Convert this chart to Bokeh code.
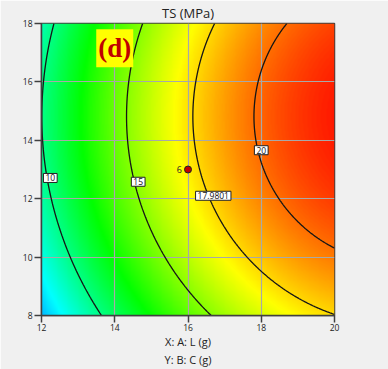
import numpy as np
from bokeh.plotting import figure
from bokeh.models import (Range1d, FixedTicker, LinearColorMapper, Label, LinearAxis)
from bokeh.embed import file_html
from bokeh.resources import INLINE

# ---- data (response-surface model in coded units) ----
x_name = "X: A: L (g)"
y_name = "Y: B: C (g)"
title_text = "TS (MPa)"
x_ticks = [12, 14, 16, 18, 20]
y_ticks = [8, 10, 12, 14, 16, 18]
A_center, A_half = 16.0, 4.0
B_center, B_half = 13.0, 5.0
coef_intercept = 17.53
coef_A = 5.81
coef_B = 1.43
coef_AB = 0.0
coef_A2 = -2.00
coef_B2 = -1.97
contour_levels = [10, 15, 17.9801, 20]
contour_label_text = ["10", "15", "17.9801", "20"]
contour_label_x = [12.24, 14.64, 16.69, 18.00]
contour_label_y = [12.71, 12.58, 12.10, 13.66]
design_x = [16.0]
design_y = [13.0]
design_label = ["6"]
color_low, color_high = 2.8, 22.1

FONT = "Open Sans"

# ---- surface ----
xs = np.linspace(12, 20, 321)
ys = np.linspace(8, 18, 321)
X, Y = np.meshgrid(xs, ys)
A = (X - A_center) / A_half
B = (Y - B_center) / B_half
Z = (coef_intercept + coef_A * A + coef_B * B + coef_AB * A * B
     + coef_A2 * A ** 2 + coef_B2 * B ** 2)

stops = np.array([[0, 0, 255], [0, 255, 255], [0, 255, 0], [255, 255, 0], [255, 0, 0]], float)
pos = np.linspace(0, 1, len(stops))
tt = np.linspace(0, 1, 256)
palette = []
for t in tt:
    r = np.interp(t, pos, stops[:, 0]); g = np.interp(t, pos, stops[:, 1]); b = np.interp(t, pos, stops[:, 2])
    palette.append("#%02x%02x%02x" % (int(round(r)), int(round(g)), int(round(b))))
mapper = LinearColorMapper(palette=palette, low=color_low, high=color_high)

BG = "#f0f0f0"
p = figure(width=388, height=369, output_backend="svg", toolbar_location=None,
           x_range=Range1d(12, 20), y_range=Range1d(8, 18), title=title_text,
           min_border_left=41, min_border_right=54, min_border_top=22, min_border_bottom=52,
           background_fill_color=BG, border_fill_color=BG)
p.title.align = "center"
p.title.text_font = FONT
p.title.text_font_size = "13px"
p.title.text_font_style = "normal"
p.title.text_color = "#222222"
p.title.standoff = 3

img = p.image(image=[Z], x=12, y=8, dw=8, dh=10, color_mapper=mapper)
img.level = "image"

p.contour(x=xs, y=ys, z=Z, levels=contour_levels, fill_color=None,
          line_color="#151515", line_width=1.3)

for gr in (p.xgrid, p.ygrid):
    gr.grid_line_color = "#a8a8a8"
    gr.grid_line_width = 1.2
p.xgrid.ticker = FixedTicker(ticks=x_ticks)
p.ygrid.ticker = FixedTicker(ticks=y_ticks)

for ax, tk in ((p.xaxis, x_ticks), (p.yaxis, y_ticks)):
    ax.ticker = FixedTicker(ticks=tk)
    ax.minor_tick_line_color = None
    ax.major_tick_in = 0
    ax.major_tick_out = 7
    ax.major_tick_line_color = "#404040"
    ax.major_tick_line_width = 1.5
    ax.axis_line_color = "#404040"
    ax.axis_line_width = 1.5
    ax.major_label_text_font = FONT
    ax.major_label_text_font_size = "8.5px"
    ax.major_label_text_color = "#222222"
p.xaxis.major_label_standoff = 1
p.yaxis.major_label_standoff = 2

p.xaxis.axis_label = x_name
p.xaxis.axis_label_text_font = FONT
p.xaxis.axis_label_text_font_size = "11px"
p.xaxis.axis_label_text_font_style = "normal"
p.xaxis.axis_label_text_color = "#222222"
p.xaxis.axis_label_standoff = 0

# second name line as an extra, tick-less axis below
ax2 = LinearAxis(ticker=FixedTicker(ticks=[]), axis_line_color=None,
                 major_tick_line_color=None, minor_tick_line_color=None,
                 major_tick_out=0, major_tick_in=0, major_label_standoff=0,
                 major_label_text_font_size="0px",
                 axis_label=y_name, axis_label_text_font=FONT,
                 axis_label_text_font_size="11px", axis_label_text_font_style="normal",
                 axis_label_text_color="#222222", axis_label_standoff=0)
p.add_layout(ax2, "below")

p.outline_line_color = "#404040"
p.outline_line_width = 1.5
p.outline_line_alpha = 1.0

# contour labels
for tx, lx, ly in zip(contour_label_text, contour_label_x, contour_label_y):
    p.add_layout(Label(x=lx, y=ly, text=tx, text_align="center", text_baseline="middle",
                       text_font=FONT, text_font_size="8.5px", text_color="#111111",
                       background_fill_color="white", border_line_color="#222222",
                       border_line_width=1, padding=(2, 1)))

# design point
p.scatter(design_x, design_y, size=7, fill_color="#c00000", line_color="#202020", line_width=1)
for dx, dy, dl in zip(design_x, design_y, design_label):
    p.add_layout(Label(x=dx, y=dy, text=dl, x_offset=-6, text_align="right",
                       text_baseline="middle", text_font=FONT, text_font_size="9px",
                       text_color="#222222"))

# panel tag
p.add_layout(Label(x=14, y=17.15, text="(d)", text_align="center", text_baseline="middle",
                   text_font="Liberation Serif", text_font_style="bold", text_font_size="27px",
                   text_color="#c00000", background_fill_color="#ffff00", padding=(2, 4)))

html = file_html(p, INLINE)
html = html.replace("<body>", '<body style="background:#f0f0f0">', 1)
open("out.html", "w").write(html)
